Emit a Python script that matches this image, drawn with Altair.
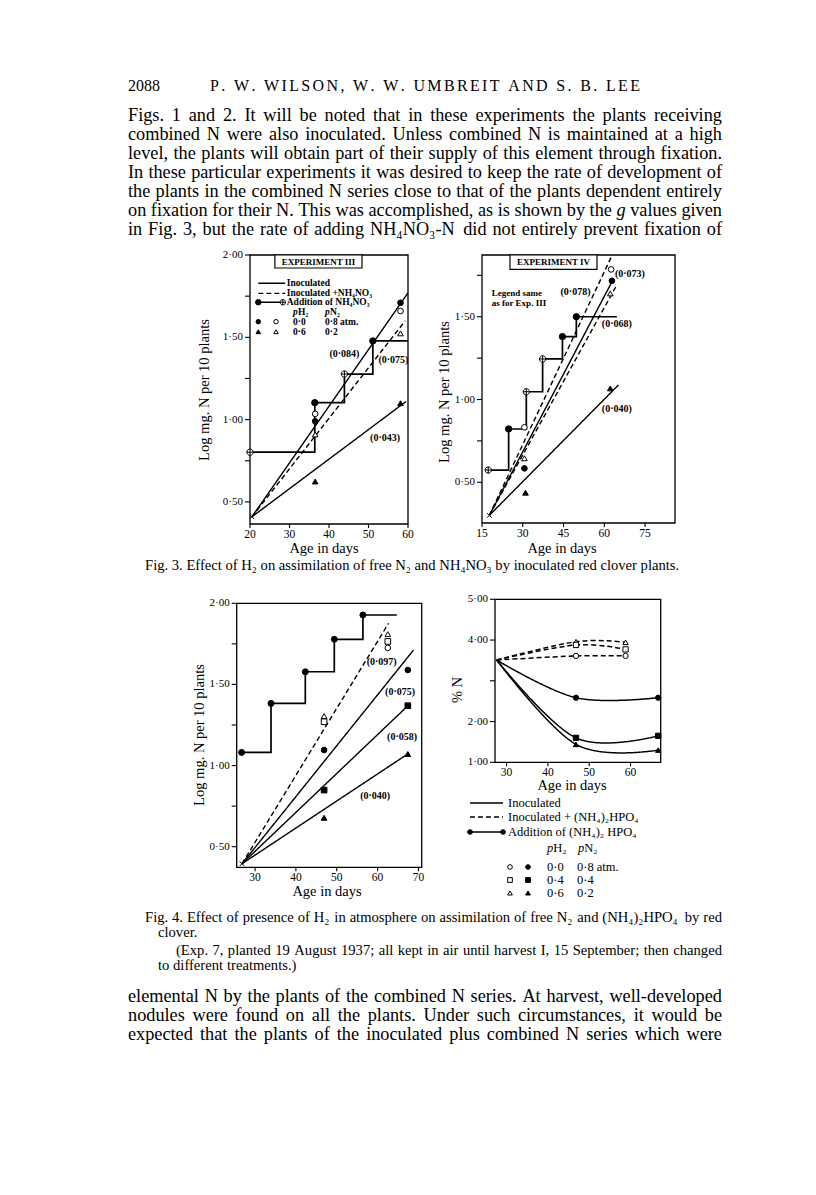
import altair as alt
import pandas as pd

# ======================= page text =======================
PAGE_NUMBER = "2088"
RUNNING_HEAD = "P. W. WILSON, W. W. UMBREIT AND S. B. LEE"
PARA_TOP = [
    "Figs. 1 and 2. It will be noted that in these experiments the plants receiving",
    "combined N were also inoculated. Unless combined N is maintained at a high",
    "level, the plants will obtain part of their supply of this element through fixation.",
    "In these particular experiments it was desired to keep the rate of development of",
    "the plants in the combined N series close to that of the plants dependent entirely",
    "on fixation for their N. This was accomplished, as is shown by the g values given",
    "in Fig. 3, but the rate of adding NH₄NO₃-N did not entirely prevent fixation of",
]
PARA_TOP_ITALIC = {5: {"g"}}
CAPTION_3 = "Fig. 3.  Effect of H₂ on assimilation of free N₂ and NH₄NO₃ by inoculated red clover plants."
CAPTION_4 = [
    "Fig. 4.  Effect of presence of H₂ in atmosphere on assimilation of free N₂ and (NH₄)₂HPO₄ by red",
    "clover.",
]
NOTE_4 = [
    "(Exp. 7, planted 19 August 1937; all kept in air until harvest I, 15 September; then changed",
    "to different treatments.)",
]
PARA_BOTTOM = [
    "elemental N by the plants of the combined N series. At harvest, well-developed",
    "nodules were found on all the plants. Under such circumstances, it would be",
    "expected that the plants of the inoculated plus combined N series which were",
]
AXIS_LOG = "Log mg. N per 10 plants"
AXIS_AGE = "Age in days"
AXIS_PCT = "% N"

# ======================= Fig. 3, Experiment III =======================
E3_TITLE = "EXPERIMENT III"
E3_FIT_NAME = ["inoc 0·0", "comb 0·0", "inoc 0·6"]
E3_FIT_STYLE = ["solid", "dashed", "solid"]
E3_FIT_X = [[20.5, 60.0], [20.5, 59.3], [20.5, 59.5]]
E3_FIT_Y = [[0.41, 1.77], [0.41, 1.60], [0.41, 1.11]]
E3_G_TEXT = ["(0·084)", "(0·075)", "(0·043)"]
E3_G_X = [43.9, 56.3, 54.2]
E3_G_Y = [1.40, 1.36, 0.887]
E3_PT_KIND = ["inoc 0·0", "comb 0·0", "inoc 0·6", "comb 0·6", "inoc 0·0", "comb 0·0", "inoc 0·6", "comb 0·6"]
E3_PT_X = [36.5, 36.5, 36.5, 36.5, 58.1, 58.1, 58.1, 58.1]
E3_PT_Y = [0.99, 1.035, 0.624, 0.91, 1.71, 1.66, 1.10, 1.524]
E3_STEP_X = [20.0, 36.4, 43.9, 51.1, 60.0]
E3_STEP_Y = [0.802, 1.103, 1.277, 1.478, 1.478]
E3_ADD_KIND = ["addition ⊕", "addition", "addition ⊕", "addition"]
E3_ORIGIN = [20.5, 0.41]

# ======================= Fig. 3, Experiment IV =======================
E4_TITLE = "EXPERIMENT IV"
E4_NOTE = ["Legend same", "as for Exp. III"]
E4_FIT_NAME = ["comb 0·0", "inoc 0·0", "comb 0·6", "inoc 0·6"]
E4_FIT_STYLE = ["dashed", "solid", "dashed", "solid"]
E4_FIT_X = [[17.7, 62.5], [17.7, 63.4], [17.7, 64.2], [17.7, 65.2]]
E4_FIT_Y = [[0.30, 1.859], [0.30, 1.73], [0.30, 1.68], [0.30, 1.088]]
E4_G_TEXT = ["(0·078)", "(0·073)", "(0·068)", "(0·040)"]
E4_G_X = [49.4, 69.4, 64.6, 64.6]
E4_G_Y = [1.651, 1.758, 1.456, 0.94]
E4_PT_KIND = ["inoc 0·0", "comb 0·0", "inoc 0·6", "comb 0·6", "inoc 0·0", "comb 0·0", "inoc 0·6", "comb 0·6"]
E4_PT_X = [30.6, 30.6, 31.0, 30.6, 62.8, 62.5, 62.2, 62.2]
E4_PT_Y = [0.584, 0.832, 0.437, 0.645, 1.717, 1.786, 1.067, 1.641]
E4_STEP_X = [17.3, 24.8, 31.3, 37.3, 44.6, 49.7, 64.6]
E4_STEP_Y = [0.574, 0.822, 1.047, 1.245, 1.38, 1.50, 1.50]
E4_ADD_KIND = ["addition ⊕", "addition", "addition ⊕", "addition ⊕", "addition", "addition"]
E4_ORIGIN = [17.7, 0.30]

# ======================= Fig. 4, left (log mg N) =======================
F4A_FIT_NAME = ["comb", "inoc 0·0", "inoc 0·4", "inoc 0·6"]
F4A_FIT_STYLE = ["dashed", "solid", "solid", "solid"]
F4A_FIT_X = [[26.8, 62.7], [26.8, 68.8], [26.8, 67.6], [26.8, 67.6]]
F4A_FIT_Y = [[0.395, 1.877], [0.395, 1.712], [0.395, 1.373], [0.395, 1.075]]
F4A_G_TEXT = ["(0·097)", "(0·075)", "(0·058)", "(0·040)"]
F4A_G_X = [61.0, 65.5, 66.0, 59.4]
F4A_G_Y = [1.64, 1.455, 1.178, 0.812]
F4A_PT_KIND = ["comb 0·6", "comb 0·4", "inoc 0·0", "inoc 0·4", "inoc 0·6",
               "comb 0·6", "comb 0·4", "comb 0·0", "inoc 0·0", "inoc 0·4", "inoc 0·6"]
F4A_PT_X = [46.9, 46.9, 46.9, 46.9, 46.9, 62.5, 62.5, 62.5, 67.4, 67.4, 67.4]
F4A_PT_Y = [1.305, 1.27, 1.096, 0.849, 0.678, 1.81, 1.765, 1.725, 1.589, 1.369, 1.071]
F4A_STEP_X = [26.7, 33.9, 42.3, 49.4, 56.4, 64.7]
F4A_STEP_Y = [1.081, 1.383, 1.578, 1.778, 1.928, 1.928]
F4A_ADD_KIND = ["addition"] * 5
F4A_ORIGIN = [26.8, 0.395]

# ======================= Fig. 4, right (% N) =======================
F4B_NAME = ["comb 0·6", "comb 0·4", "comb 0·0", "inoc 0·0", "inoc 0·4", "inoc 0·6"]
F4B_STYLE = ["dashed", "dashed", "dashed", "solid", "solid", "solid"]
F4B_DAYS = [[27.6, 46.8, 58.8], [27.6, 46.8, 58.8], [27.6, 46.8, 58.8],
            [27.6, 46.8, 66.7], [27.6, 46.8, 66.7], [27.6, 46.8, 66.7]]
F4B_PCT = [[3.51, 3.96, 3.945], [3.51, 3.88, 3.77], [3.51, 3.61, 3.61],
           [3.51, 2.585, 2.585], [3.51, 1.60, 1.65], [3.51, 1.44, 1.30]]
F4B_LEG_LINES = ["Inoculated", "Inoculated + (NH₄)₂HPO₄", "Addition of (NH₄)₂ HPO₄"]
F4B_LEG_HEAD = [("p", "H₂"), ("p", "N₂")]
F4B_LEG_KINDS = [["comb 0·0", "inoc 0·0"], ["comb 0·4", "inoc 0·4"], ["comb 0·6", "inoc 0·6"]]
F4B_LEG_VALS = [["0·0", "0·8 atm."], ["0·4", "0·4"], ["0·6", "0·2"]]

E3_LEG_LINES = ["Inoculated", "Inoculated +NH₄NO₃", "Addition of NH₄NO₃"]
E3_LEG_HEAD = [("p", "H₂"), ("p", "N₂")]
E3_LEG_KINDS = [["inoc 0·0", "comb 0·0"], ["inoc 0·6", "comb 0·6"]]
E3_LEG_VALS = [["0·0", "0·8 atm."], ["0·6", "0·2"]]

# axis ticks
E3_XT = [20, 30, 40, 50, 60]
E3_YT = [0.5, 0.75, 1.0, 1.25, 1.5, 1.75, 2.0]
E3_YL = ["0·50", "", "1·00", "", "1·50", "", "2·00"]
E4_XT = [15, 30, 45, 60, 75]
E4_YT = [0.5, 0.75, 1.0, 1.25, 1.5, 1.75]
E4_YL = ["0·50", "", "1·00", "", "1·50", ""]
F4A_XT = [30, 40, 50, 60, 70]
F4A_YT = [0.5, 0.75, 1.0, 1.25, 1.5, 1.75, 2.0]
F4A_YL = ["0·50", "", "1·00", "", "1·50", "", "2·00"]
F4B_XT = [30, 40, 50, 60]
F4B_YT = [1, 2, 3, 4, 5]
F4B_YL = ["1·00", "2·00", "", "4·00", "5·00"]

# ======================= layout (page pixels) =======================
OFF = 8
W, H = 800, 1179
SERIF = "Liberation Serif"
BODY_L, BODY_R = 128, 722
LEAD = 19
P_E3 = dict(xd=[20, 60], yd=[0.366, 2.0], xr=[250, 408], yr=[524, 255])
P_E4 = dict(xd=[15, 86], yd=[0.254, 1.873], xr=[482, 675], yr=[523, 255])
P_F4A = dict(xd=[25.5, 70.8], yd=[0.373, 2.0], xr=[236.7, 421.7], yr=[867.3, 603.3])
P_F4B = dict(xd=[27.2, 67.3], yd=[1.0, 5.0], xr=[495, 660.7], yr=[762.3, 599.3])
TICK_FS = 11
ANNOT_FS = 10

KINDS = ["inoc 0·0", "comb 0·0", "inoc 0·4", "comb 0·4", "inoc 0·6", "comb 0·6",
         "addition", "addition ⊕", "origin"]
CIRCLE_CROSS = "M-1,0A1,1,0,1,0,1,0A1,1,0,1,0,-1,0ZM-1,0L1,0M0,-1L0,1"
XMARK = "M-1,-1L1,1M-1,1L1,-1"
SHAPES = ["circle", "circle", "square", "square", "triangle-up", "triangle-up",
          "circle", CIRCLE_CROSS, XMARK]
FILLS = ["black", "white", "black", "white", "black", "white", "black", "white", "white"]

# Times/Liberation Serif advance widths (per 1000 em) for justification
METRIC = {" ": 250, "(": 333, ")": 333, ",": 250, "-": 333, ".": 250, ";": 278, ":": 278,
          "+": 564, "·": 250, "₂": 420, "₃": 420, "₄": 420, "%": 833}
for c in "0123456789":
    METRIC[c] = 500
for c, w in zip("ABCDEFGHIJKLMNOPQRSTUVWXYZ",
                [722, 667, 667, 722, 611, 556, 722, 722, 333, 389, 722, 611, 889, 722, 722, 556,
                 722, 667, 556, 611, 722, 722, 944, 722, 722, 611]):
    METRIC[c] = w
for c, w in zip("abcdefghijklmnopqrstuvwxyz",
                [444, 500, 444, 500, 444, 333, 500, 500, 278, 278, 500, 278, 778, 500, 500, 500,
                 500, 333, 389, 278, 500, 500, 722, 500, 500, 444]):
    METRIC[c] = w


def em(s):
    return sum(METRIC.get(c, 500) for c in s) / 1000.0


PX = alt.Scale(domain=[0, 816], range=[-OFF, 816 - OFF])
PY = alt.Scale(domain=[0, 1195], range=[-OFF, 1195 - OFF])
DASH = alt.StrokeDash("style:N", scale=alt.Scale(domain=["solid", "dashed"], range=[[1, 0], [5, 3]]),
                      legend=None)
SHAPE = alt.Shape("kind:N", scale=alt.Scale(domain=KINDS, range=SHAPES), legend=None)
FILL = alt.Fill("kind:N", scale=alt.Scale(domain=KINDS, range=FILLS), legend=None)

layers = []


def page_text(rows, **kw):
    m = dict(font=SERIF, color="black", baseline="middle", align="left")
    m.update(kw)
    return alt.Chart(pd.DataFrame(rows)).mark_text(**m).encode(
        x=alt.X("x:Q", scale=PX, axis=None),
        y=alt.Y("y:Q", scale=PY, axis=None),
        text="t:N")


def justified(lines, fs, x0, x1, y0, lead, justify=True, italic=None):
    rows = []
    italic = italic or {}
    for i, line in enumerate(lines):
        words = line.split()
        ws = [em(w) * fs for w in words]
        if justify and len(words) > 1:
            gap = (x1 - x0 - sum(ws)) / (len(words) - 1)
        else:
            gap = 0.25 * fs
        x = x0
        for w, wd in zip(words, ws):
            rows.append(dict(x=x, y=y0 + i * lead, t=w, it=(w in italic.get(i, set()))))
            x += wd + gap
    return rows


def text_block(rows, fs, **kw):
    out = []
    normal = [r for r in rows if not r.get("it")]
    ital = [r for r in rows if r.get("it")]
    if normal:
        out.append(page_text(normal, fontSize=fs, **kw))
    if ital:
        out.append(page_text(ital, fontSize=fs, fontStyle="italic", **kw))
    return out


def spaced(text, fs, x0, x1, y):
    ws = [METRIC.get(c, 500) * fs / 1000.0 for c in text]
    ls = (x1 - x0 - sum(ws)) / (len(text) - 1)
    rows, x = [], x0
    for c, wd in zip(text, ws):
        if c != " ":
            rows.append(dict(x=x, y=y, t=c))
        x += wd + ls
    return rows


def scales(P):
    sx = alt.Scale(domain=P["xd"], range=[P["xr"][0] - OFF, P["xr"][1] - OFF], zero=False, nice=False)
    sy = alt.Scale(domain=P["yd"], range=[P["yr"][0] - OFF, P["yr"][1] - OFF], zero=False, nice=False)
    return sx, sy


def xy(P, xf="x", yf="y"):
    sx, sy = scales(P)
    return dict(x=alt.X(xf, type="quantitative", scale=sx, axis=None),
                y=alt.Y(yf, type="quantitative", scale=sy, axis=None))


def axes(P, xt, yt, yl):
    sx, sy = scales(P)
    out = []
    fr = pd.DataFrame({"a": [P["xd"][0]], "b": [P["xd"][1]], "c": [P["yd"][0]], "d": [P["yd"][1]]})
    out.append(alt.Chart(fr).mark_rect(fillOpacity=0, stroke="black", strokeWidth=1.3).encode(
        x=alt.X("a:Q", scale=sx, axis=None), x2=alt.X2("b"),
        y=alt.Y("c:Q", scale=sy, axis=None), y2=alt.Y2("d")))
    ydf = pd.DataFrame({"v": yt, "x0": P["xd"][0], "lab": yl})
    out.append(alt.Chart(ydf).mark_rule(color="black", strokeWidth=1.1, x2Offset=-5).encode(
        x=alt.X("x0:Q", scale=sx, axis=None), x2=alt.X2("x0"),
        y=alt.Y("v:Q", scale=sy, axis=None)))
    out.append(alt.Chart(ydf).mark_text(font=SERIF, fontSize=TICK_FS, align="right", baseline="middle",
                                        dx=-7, color="black").encode(
        x=alt.X("x0:Q", scale=sx, axis=None), y=alt.Y("v:Q", scale=sy, axis=None), text="lab:N"))
    xdf = pd.DataFrame({"v": xt, "y0": P["yd"][0], "lab": [str(v) for v in xt]})
    out.append(alt.Chart(xdf).mark_rule(color="black", strokeWidth=1.1, y2Offset=4).encode(
        x=alt.X("v:Q", scale=sx, axis=None),
        y=alt.Y("y0:Q", scale=sy, axis=None), y2=alt.Y2("y0")))
    out.append(alt.Chart(xdf).mark_text(font=SERIF, fontSize=TICK_FS + 0.5, align="center", baseline="top",
                                        dy=5, color="black").encode(
        x=alt.X("v:Q", scale=sx, axis=None), y=alt.Y("y0:Q", scale=sy, axis=None), text="lab:N"))
    return out


def fits(P, names, styles, xs, ys, width=1.4, interp="linear"):
    rows = []
    for n, s, xx, yy in zip(names, styles, xs, ys):
        for a, b in zip(xx, yy):
            rows.append(dict(name=n, style=s, x=a, y=b))
    return alt.Chart(pd.DataFrame(rows)).mark_line(color="black", strokeWidth=width,
                                                   interpolate=interp).encode(
        detail="name:N", strokeDash=DASH, **xy(P))


def step(P, xs, ys):
    df = pd.DataFrame({"x": xs, "y": ys})
    return alt.Chart(df).mark_line(color="black", strokeWidth=1.7, interpolate="step-after").encode(**xy(P))


def points(P, kinds, xs, ys, size=32):
    df = pd.DataFrame({"kind": kinds, "x": xs, "y": ys})
    return alt.Chart(df).mark_point(filled=True, stroke="black", strokeWidth=1, size=size,
                                    opacity=1).encode(shape=SHAPE, fill=FILL, **xy(P))


def labels(P, texts, xs, ys, fs=ANNOT_FS, weight="bold", align="center", **kw):
    df = pd.DataFrame({"t": texts, "x": xs, "y": ys})
    return alt.Chart(df).mark_text(font=SERIF, fontSize=fs, fontWeight=weight, align=align,
                                   baseline="middle", color="black", **kw).encode(text="t:N", **xy(P))


def box(P, x0, x1, y0, y1, text, fs=9):
    sx, sy = scales(P)
    df = pd.DataFrame({"a": [x0], "b": [x1], "c": [y0], "d": [y1]})
    r = alt.Chart(df).mark_rect(fill="white", stroke="black", strokeWidth=1.2).encode(
        x=alt.X("a:Q", scale=sx, axis=None), x2=alt.X2("b"),
        y=alt.Y("c:Q", scale=sy, axis=None), y2=alt.Y2("d"))
    t = labels(P, [text], [(x0 + x1) / 2], [(y0 + y1) / 2], fs=fs)
    return [r, t]


# ----------------------- page text -----------------------
body_fs = (BODY_R - BODY_L) / max(em(l) for l in PARA_TOP + PARA_BOTTOM)
layers += text_block(justified(PARA_TOP, body_fs, BODY_L, BODY_R, 116, LEAD, italic=PARA_TOP_ITALIC), body_fs)
layers += text_block(justified(PARA_BOTTOM, body_fs, BODY_L, BODY_R, 997, LEAD), body_fs)
head_fs = 16
layers.append(page_text([dict(x=BODY_L, y=86, t=PAGE_NUMBER)], fontSize=head_fs))
layers.append(page_text(spaced(RUNNING_HEAD, head_fs, 210, 640, 86), fontSize=head_fs))

cap_left = BODY_L + 17
cap_fs = min(572 / em(CAPTION_3),
             (BODY_R - cap_left) / (em(CAPTION_4[0]) + 0.03))
layers.append(page_text([dict(x=cap_left, y=566, t=CAPTION_3)], fontSize=cap_fs))
layers += text_block(justified(CAPTION_4[:1], cap_fs, cap_left, BODY_R, 918, 15), cap_fs)
layers += text_block(justified(CAPTION_4[1:], cap_fs, BODY_L + 30, BODY_R, 933, 15, False), cap_fs)
layers += text_block(justified(NOTE_4[:1], cap_fs, BODY_L + 48, BODY_R, 951, 15), cap_fs)
layers += text_block(justified(NOTE_4[1:], cap_fs, BODY_L + 30, BODY_R, 966, 15, False), cap_fs)

# axis titles
title_fs = 14.5
layers.append(page_text([dict(x=324, y=549, t=AXIS_AGE), dict(x=562, y=549, t=AXIS_AGE),
                         dict(x=327, y=892, t=AXIS_AGE), dict(x=572, y=786, t=AXIS_AGE)],
                        fontSize=title_fs, align="center"))
layers.append(page_text([dict(x=205, y=390, t=AXIS_LOG), dict(x=445, y=392, t=AXIS_LOG),
                         dict(x=200, y=735, t=AXIS_LOG), dict(x=458, y=690, t=AXIS_PCT)],
                        fontSize=title_fs, align="center", angle=270))

# ----------------------- Fig 3: Experiment III -----------------------
layers += axes(P_E3, E3_XT, E3_YT, E3_YL)
layers.append(fits(P_E3, E3_FIT_NAME, E3_FIT_STYLE, E3_FIT_X, E3_FIT_Y))
layers.append(step(P_E3, E3_STEP_X, E3_STEP_Y))
layers.append(points(P_E3, E3_PT_KIND, E3_PT_X, E3_PT_Y))
layers.append(points(P_E3, E3_ADD_KIND, E3_STEP_X[:4], E3_STEP_Y[:4], size=40))
layers.append(points(P_E3, ["origin"], [E3_ORIGIN[0]], [E3_ORIGIN[1]], size=22))
layers.append(labels(P_E3, E3_G_TEXT, E3_G_X, E3_G_Y))
layers += box(P_E3, 26.3, 48.35, 1.921, 2.0, E3_TITLE)
# legend inside Experiment III
leg_y = [1.828, 1.767, 1.713]
leg = pd.DataFrame({"x": [22.1] * 3, "x2": [28.9] * 3, "y": leg_y, "style": ["solid", "dashed", "solid"]})
sx3, sy3 = scales(P_E3)
layers.append(alt.Chart(leg).mark_rule(color="black", strokeWidth=1.4).encode(
    x=alt.X("x:Q", scale=sx3, axis=None), x2=alt.X2("x2"), y=alt.Y("y:Q", scale=sy3, axis=None),
    strokeDash=DASH))
layers.append(points(P_E3, ["addition", "addition ⊕"], [22.1, 28.3], [leg_y[2], leg_y[2]], size=30))
layers.append(labels(P_E3, E3_LEG_LINES, [29.3] * 3, leg_y, fs=9.5, align="left"))
head_x = [30.9, 39.0]
layers.append(labels(P_E3, [h[0] for h in E3_LEG_HEAD], head_x, [1.656] * 2, fs=9.5,
                     align="left", fontStyle="italic"))
layers.append(labels(P_E3, [h[1] for h in E3_LEG_HEAD], head_x, [1.656] * 2, fs=9.5,
                     align="left", dx=5))
ky = [1.595, 1.534]
layers.append(points(P_E3, [k for row in E3_LEG_KINDS for k in row], [22.1, 26.6, 22.1, 26.6],
                     [ky[0], ky[0], ky[1], ky[1]], size=20))
layers.append(labels(P_E3, [v for row in E3_LEG_VALS for v in row], [30.9, 39.0, 30.9, 39.0],
                     [ky[0], ky[0], ky[1], ky[1]], fs=9.5, align="left"))

# ----------------------- Fig 3: Experiment IV -----------------------
layers += axes(P_E4, E4_XT, E4_YT, E4_YL)
layers.append(fits(P_E4, E4_FIT_NAME, E4_FIT_STYLE, E4_FIT_X, E4_FIT_Y))
layers.append(step(P_E4, E4_STEP_X, E4_STEP_Y))
layers.append(points(P_E4, E4_PT_KIND, E4_PT_X, E4_PT_Y))
layers.append(points(P_E4, E4_ADD_KIND, E4_STEP_X[:6], E4_STEP_Y[:6], size=40))
layers.append(points(P_E4, ["origin"], [E4_ORIGIN[0]], [E4_ORIGIN[1]], size=22))
layers.append(labels(P_E4, E4_G_TEXT, E4_G_X, E4_G_Y))
layers += box(P_E4, 25.3, 57.3, 1.786, 1.873, E4_TITLE)
layers.append(labels(P_E4, E4_NOTE, [18.6, 18.6], [1.645, 1.585], fs=9, align="left"))

# ----------------------- Fig 4: left -----------------------
layers += axes(P_F4A, F4A_XT, F4A_YT, F4A_YL)
layers.append(fits(P_F4A, F4A_FIT_NAME, F4A_FIT_STYLE, F4A_FIT_X, F4A_FIT_Y))
layers.append(step(P_F4A, F4A_STEP_X, F4A_STEP_Y))
layers.append(points(P_F4A, F4A_PT_KIND, F4A_PT_X, F4A_PT_Y))
layers.append(points(P_F4A, F4A_ADD_KIND, F4A_STEP_X[:5], F4A_STEP_Y[:5], size=36))
layers.append(points(P_F4A, ["origin"], [F4A_ORIGIN[0]], [F4A_ORIGIN[1]], size=22))
layers.append(labels(P_F4A, F4A_G_TEXT, F4A_G_X, F4A_G_Y))

# ----------------------- Fig 4: right -----------------------
layers += axes(P_F4B, F4B_XT, F4B_YT, F4B_YL)
layers.append(fits(P_F4B, F4B_NAME, F4B_STYLE, F4B_DAYS, F4B_PCT, width=1.5, interp="cardinal"))
pk, px_, py_ = [], [], []
for n, dd, vv in zip(F4B_NAME, F4B_DAYS, F4B_PCT):
    for d, v in zip(dd[1:], vv[1:]):
        pk.append(n); px_.append(d); py_.append(v)
layers.append(points(P_F4B, pk, px_, py_, size=28))

# legend below Fig 4 right (page coordinates)
leg_fs = 12.5
lg_y = [803, 817, 832]
lgl = pd.DataFrame({"x": [470] * 3, "x2": [503] * 3, "y": lg_y, "style": ["solid", "dashed", "solid"]})
layers.append(alt.Chart(lgl).mark_rule(color="black", strokeWidth=1.4).encode(
    x=alt.X("x:Q", scale=PX, axis=None), x2=alt.X2("x2"), y=alt.Y("y:Q", scale=PY, axis=None),
    strokeDash=DASH))
sym_y = [867, 880, 893]
lgp = pd.DataFrame({"kind": ["addition", "addition"] + [k for row in F4B_LEG_KINDS for k in row],
                    "x": [470, 503] + [510, 528] * 3,
                    "y": [832, 832] + [yy for yy in sym_y for _ in range(2)]})
layers.append(alt.Chart(lgp).mark_point(filled=True, stroke="black", strokeWidth=1, size=22,
                                        opacity=1).encode(
    x=alt.X("x:Q", scale=PX, axis=None), y=alt.Y("y:Q", scale=PY, axis=None), shape=SHAPE, fill=FILL))
leg_rows = [dict(x=508, y=yy, t=tt) for yy, tt in zip(lg_y, F4B_LEG_LINES)]
for yy, vals in zip(sym_y, F4B_LEG_VALS):
    leg_rows += [dict(x=547, y=yy, t=vals[0]), dict(x=577, y=yy, t=vals[1])]
leg_rows += [dict(x=547 + em("p") * leg_fs, y=848, t=F4B_LEG_HEAD[0][1]),
             dict(x=578 + em("p") * leg_fs, y=848, t=F4B_LEG_HEAD[1][1])]
layers.append(page_text(leg_rows, fontSize=leg_fs))
layers.append(page_text([dict(x=547, y=848, t=F4B_LEG_HEAD[0][0]), dict(x=578, y=848, t=F4B_LEG_HEAD[1][0])],
                        fontSize=leg_fs, fontStyle="italic"))

chart = alt.layer(*layers).resolve_scale(x="independent", y="independent").properties(
    width=W, height=H, padding=0, autosize=alt.AutoSizeParams(type="none"), background="white"
).configure_view(stroke=None)

chart.save("out.html", embed_options={"renderer": "svg", "actions": False})
